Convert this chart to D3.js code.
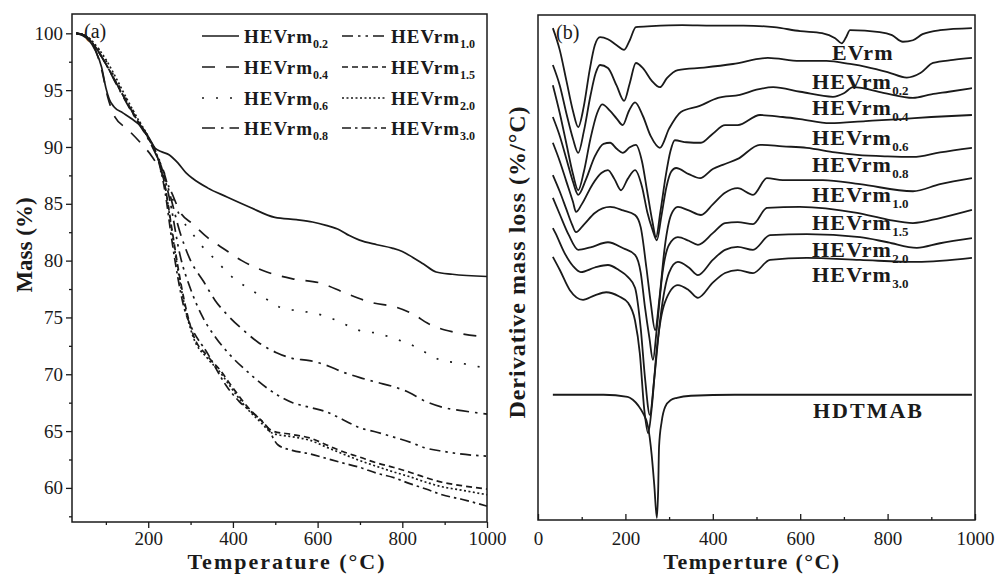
<!DOCTYPE html>
<html>
<head>
<meta charset="utf-8">
<script src="https://cdn.jsdelivr.net/npm/d3@7"></script>
<style>
	body { margin: 0; background: #fff; }
	svg text { font-family: "Liberation Serif", "Times New Roman", serif; fill: #1a1a1a; }
</style>
</head>
<body>
<svg id="chart" width="997" height="575"></svg>
<script>

// (a) TGA mass curves, [temperature, mass %]
var tgaNames = ["0.2", "0.4", "0.6", "0.8", "1.0", "1.5", "2.0", "3.0"];

var tga02 = [[30,100],[45,99.8],[60,99.4],[75,98.5],[90,97.0],[100,95.2],[108,94.2],[120,93.5],[140,93.0],[160,92.5],[186,91.7],[205,90.6],[216,89.9],[230,89.6],[250,89.3],[270,88.6],[290,87.7],[306,87.2],[340,86.4],[386,85.6],[440,84.7],[499,83.8],[550,83.6],[588,83.4],[620,83.1],[652,82.7],[675,82.2],[699,81.8],[740,81.4],[776,81.1],[800,80.8],[824,80.3],[850,79.7],[880,79.0],[918,78.8],[1000,78.6]];
var tga04 = [[30,100],[50,99.8],[70,99.0],[90,96.8],[105,94.3],[122,92.6],[150,91.6],[181,90.4],[210,89.1],[235,87.5],[255,86.0],[275,84.3],[306,83.2],[341,82.0],[380,81.0],[421,80.0],[480,79.0],[541,78.4],[609,78.0],[668,77.1],[729,76.3],[786,75.9],[830,75.2],[859,74.5],[922,73.7],[1000,73.3]];
var tga06 = [[30,100],[45,99.9],[60,99.6],[75,99.0],[100,97.6],[125,95.8],[150,94.1],[175,92.5],[200,90.9],[220,89.4],[240,87.5],[260,85.2],[280,83.6],[300,82.6],[322,81.5],[358,80.1],[397,78.6],[435,77.6],[471,76.8],[511,75.9],[550,75.6],[589,75.4],[628,75.0],[664,74.4],[703,73.8],[742,73.6],[776,73.2],[821,72.6],[856,71.9],[894,71.2],[934,71.0],[1000,70.5]];
var tga08 = [[30,100],[45,99.9],[60,99.5],[75,98.8],[100,97.3],[125,95.5],[150,93.8],[175,92.2],[200,90.7],[220,89.2],[235,88.0],[250,86.0],[275,82.5],[300,80.0],[330,78.2],[358,76.5],[390,75.1],[424,73.9],[460,72.8],[503,71.9],[540,71.4],[581,71.2],[620,70.8],[659,70.2],[700,69.7],[739,69.3],[780,68.9],[816,68.4],[850,67.7],[894,67.1],[940,66.8],[1000,66.5]];
var tga10 = [[30,100],[45,99.9],[60,99.5],[75,98.8],[100,97.3],[125,95.6],[150,93.9],[175,92.3],[200,90.8],[220,89.3],[235,87.8],[250,85.5],[275,80.5],[300,77.5],[329,75.0],[360,73.2],[393,71.7],[435,70.2],[480,68.8],[541,67.5],[580,67.1],[620,66.7],[660,66.0],[699,65.3],[740,64.9],[777,64.5],[820,64.0],[856,63.5],[900,63.2],[934,63.0],[1000,62.8]];
var tga15 = [[30,100],[45,99.9],[60,99.5],[75,98.8],[100,97.3],[125,95.6],[150,93.9],[175,92.3],[200,90.8],[220,89.3],[240,86.5],[255,83.0],[270,79.5],[285,76.5],[306,73.5],[340,71.6],[369,70.4],[400,68.8],[433,67.2],[465,66.0],[494,65.0],[540,64.7],[581,64.4],[620,63.8],[659,63.2],[700,62.7],[739,62.2],[780,61.8],[816,61.4],[856,60.9],[894,60.5],[940,60.2],[1000,59.9]];
var tga20 = [[30,100],[45,99.9],[60,99.6],[75,99.0],[100,97.7],[125,96.0],[150,94.2],[175,92.5],[200,90.9],[220,89.3],[240,86.5],[255,82.8],[270,79.2],[285,76.2],[306,73.3],[340,71.4],[369,70.2],[400,68.6],[433,67.0],[465,65.8],[494,64.8],[540,64.5],[581,64.2],[620,63.6],[659,63.0],[700,62.4],[739,61.9],[780,61.4],[816,61.0],[856,60.5],[894,60.1],[940,59.8],[1000,59.4]];
var tga30 = [[30,100],[45,99.9],[60,99.5],[75,98.8],[100,97.3],[125,95.6],[150,93.9],[175,92.3],[200,90.8],[220,89.3],[240,86.0],[255,82.0],[270,78.5],[285,75.8],[300,74.3],[339,71.9],[386,68.9],[415,67.6],[440,66.8],[480,65.4],[506,63.8],[540,63.3],[581,63.0],[620,62.6],[659,62.2],[700,61.8],[739,61.3],[780,60.9],[816,60.4],[856,59.9],[894,59.4],[940,59.0],[1000,58.4]];

var tgaYTicks = [60, 65, 70, 75, 80, 85, 90, 95, 100];
var tgaXTicks = [200, 400, 600, 800, 1000];

// (b) DTG curves, [temperature, offset signal in arbitrary units]
var dtgNames = ["EVrm", "HEVrm0.2", "HEVrm0.4", "HEVrm0.6", "HEVrm0.8", "HEVrm1.0", "HEVrm1.5", "HEVrm2.0", "HEVrm3.0", "HDTMAB"];

var dtgEV = [[34,97.4],[50,93],[65,87],[80,81],[92,77.8],[105,82],[118,89],[130,94],[142,95.6],[160,95.2],[180,94],[197,93.1],[210,95],[224,97.6],[260,97.8],[330,98],[400,97.9],[470,97.9],[540,97.6],[600,96.8],[650,96.4],[680,95.4],[695,94.4],[705,95.6],[714,97],[782,96.6],[810,96],[835,94.7],[858,95],[880,96.2],[920,97],[993,97.4]];
var dtg02 = [[34,90.1],[50,86],[65,80.5],[80,75.5],[92,72.7],[105,77],[120,84],[132,88.5],[142,90.1],[160,89.5],[180,86],[197,83.0],[210,86.5],[224,90.5],[240,89.5],[260,87],[279,85.7],[295,87.5],[320,89.1],[380,89.6],[446,90.3],[526,91.5],[599,90.9],[660,90.9],[714,90.3],[753,89.7],[800,88.7],[844,87.6],[875,88.5],[904,90.5],[950,91.1],[993,91.5]];
var dtg04 = [[34,86.1],[50,80.5],[65,74.5],[80,68.5],[92,65.3],[105,69],[120,75.5],[135,80.5],[147,82.3],[165,81],[180,79.5],[194,78.2],[208,81],[222,82.7],[240,80],[258,76],[279,73.7],[300,77.5],[327,80.8],[370,82],[412,83.6],[462,84.2],[500,85.2],[538,85.7],[600,84.8],[675,83.8],[700,84.5],[721,85.7],[790,84.6],[858,83.6],[900,84.3],[940,84.8],[993,85.5]];
var dtg06 = [[34,79.8],[50,76],[65,71.5],[80,67],[92,64.4],[110,67.5],[130,72],[150,74.5],[165,74.7],[180,73.5],[194,72.7],[210,73.8],[224,74.3],[238,71],[250,65],[262,59],[270,56.0],[280,61],[292,68],[303,73],[313,75.2],[340,74.8],[373,74.7],[400,76.5],[428,78.2],[457,78.2],[508,80.2],[560,79.8],[600,79.4],[668,78.6],[750,79],[830,79.4],[900,79.8],[993,80.2]];
var dtg08 = [[34,74.7],[50,71],[65,67],[80,63],[87,61.0],[100,62.5],[125,66.5],[145,68.7],[160,69.3],[175,67.5],[190,65.3],[205,67.5],[222,69.3],[238,66],[250,61],[262,57.5],[272,55.4],[282,60],[294,66],[305,69],[316,69.7],[345,68.5],[371,67.7],[400,69.5],[428,70.5],[457,71.5],[508,74.3],[560,74],[615,73.7],[680,72.8],[730,72.3],[800,72],[858,71.9],[920,72.8],[993,73.7]];
var dtg10 = [[34,68.3],[50,65],[65,61.5],[78,58.5],[87,57.0],[105,58.5],[130,60.8],[165,62.0],[195,61.3],[222,60.4],[235,58],[248,50],[258,43],[268,37.6],[278,44],[290,54],[305,60.5],[320,62.0],[345,61.3],[373,60.4],[400,62.5],[428,64.8],[457,65.7],[492,64.4],[524,67.7],[560,67.3],[652,67.3],[737,66.5],[858,65.1],[920,66.5],[993,67.7]];
var dtg15 = [[34,63.8],[50,60.5],[70,56.5],[92,53.5],[120,54],[160,55.0],[195,53.8],[222,52.5],[235,49],[245,42],[255,36],[263,31.7],[272,38],[285,49],[300,54.5],[320,56.0],[345,55.3],[366,54.5],[400,56.8],[428,58.8],[457,59.0],[492,58.6],[524,61.8],[599,62.0],[730,60.8],[800,59.5],[858,58.8],[920,59.8],[993,61.4]];
var dtg20 = [[34,57.8],[40,56.8],[60,53],[80,50.3],[98,49.1],[130,50],[160,50.5],[185,49.5],[206,48.1],[222,46],[235,38],[245,28],[256,20.8],[266,28],[280,40],[300,49],[320,51.1],[345,50],[366,48.5],[400,51.5],[428,53.5],[457,54.1],[492,53.5],[531,56.4],[615,56.6],[737,56.0],[800,55],[867,53.9],[920,54.8],[993,55.8]];
var dtg30 = [[34,52.1],[50,49.5],[73,45.5],[103,43.6],[130,44.5],[156,45.1],[185,44.3],[206,43.0],[222,39.5],[233,33],[243,22],[252,17.2],[260,22],[272,34],[290,43],[320,46.5],[345,45.5],[366,44.0],[400,47],[428,48.9],[457,49.5],[492,48.9],[531,51.5],[615,51.9],[737,51.5],[867,51.1],[993,51.9]];
var dtgHD = [[34,24.8],[150,24.8],[205,24.4],[217,23.8],[230,22.6],[240,21.2],[252,18.4],[260,13],[266,7],[272,0.4],[275,6],[277,14.5],[283,19.5],[291,22.4],[305,23.8],[318,24.2],[350,24.6],[450,24.8],[993,24.8]];

var dtgXTicks = [0, 200, 400, 600, 800, 1000];

var svg = d3.select("#chart");
var ink = "#1a1a1a";

// ---------- panel (a) ----------

var xA = d3.scaleLinear().domain([20, 1000]).range([72, 487]);
var yA = d3.scaleLinear().domain([57, 101.7]).range([522, 14]);

var dashA = {
	"0.2": null,
	"0.4": "13,11",
	"0.6": "2,12",
	"0.8": "13,6,2.5,6",
	"1.0": "11,5,2.5,5,2.5,5",
	"1.5": "6,4",
	"2.0": "2,2.5",
	"3.0": "9,4,2.5,4"
};

var tgaData = [tga02, tga04, tga06, tga08, tga10, tga15, tga20, tga30];

function axisStyle(g)	{
	g.select(".domain").remove();
	g.selectAll("line").attr("stroke", ink).attr("stroke-width", 1.3);
	g.selectAll("text")
		.attr("font-size", 19)
		.attr("font-family", '"Liberation Serif", serif')
		.attr("fill", "#222");
}

svg.append("g")
	.attr("transform", "translate(0,522)")
	.call(d3.axisBottom(xA).tickValues(tgaXTicks).tickSize(6).tickPadding(4).tickFormat(d3.format("d")))
	.call(axisStyle);

svg.append("g")
	.attr("transform", "translate(0,522)")
	.call(d3.axisBottom(xA).tickValues([100, 300, 500, 700, 900]).tickSize(3).tickFormat(""))
	.call(axisStyle);

svg.append("g")
	.attr("transform", "translate(72,0)")
	.call(d3.axisLeft(yA).tickValues(tgaYTicks).tickSize(6).tickPadding(3).tickFormat(d3.format("d")))
	.call(axisStyle);

svg.append("g")
	.attr("transform", "translate(72,0)")
	.call(d3.axisLeft(yA).tickValues([57.5, 62.5, 67.5, 72.5, 77.5, 82.5, 87.5, 92.5, 97.5]).tickSize(3).tickFormat(""))
	.call(axisStyle);

svg.append("rect")
	.attr("x", 72).attr("y", 14)
	.attr("width", 487 - 72).attr("height", 522 - 14)
	.attr("fill", "none").attr("stroke", ink).attr("stroke-width", 1.5);

var lineA = d3.line()
	.x(d => xA(d[0]))
	.y(d => yA(d[1]))
	.curve(d3.curveMonotoneX);

tgaData.forEach( (s, i) => {

	svg.append("path")
		.attr("d", lineA(s))
		.attr("fill", "none")
		.attr("stroke", ink)
		.attr("stroke-width", 1.7)
		.attr("stroke-dasharray", dashA[tgaNames[i]]);

});

// legend, two columns of four
tgaNames.forEach( (n, i) => {

	var col = Math.floor(i / 4);
	var row = i % 4;
	var ly = [36, 67, 98, 128][row];
	var x0 = col === 0 ? 202 : 342;
	var x1 = col === 0 ? 239 : 386;

	svg.append("line")
		.attr("x1", x0).attr("x2", x1)
		.attr("y1", ly).attr("y2", ly)
		.attr("stroke", ink)
		.attr("stroke-width", 1.7)
		.attr("stroke-dasharray", dashA[n]);

	var t = svg.append("text")
		.attr("x", x1 + 5)
		.attr("y", ly + 7)
		.attr("font-size", 19)
		.attr("font-weight", "bold")
		.attr("letter-spacing", 1);

	t.append("tspan").text("HEVrm");
	t.append("tspan")
		.attr("font-size", 12)
		.attr("dy", 5)
		.attr("letter-spacing", 0)
		.text(n);

});

svg.append("text")
	.attr("x", 84).attr("y", 38)
	.attr("font-size", 20)
	.text("(a)");

svg.append("text")
	.attr("transform", "translate(32,245) rotate(-90)")
	.attr("text-anchor", "middle")
	.attr("font-size", 23)
	.attr("font-weight", "bold")
	.text("Mass (%)");

svg.append("text")
	.attr("x", 287).attr("y", 569)
	.attr("text-anchor", "middle")
	.attr("font-size", 22)
	.attr("font-weight", "bold")
	.attr("letter-spacing", 2)
	.text("Temperature (°C)");

// ---------- panel (b) ----------

var xB = d3.scaleLinear().domain([0, 1000]).range([538, 975]);
var yB = d3.scaleLinear().domain([0, 100]).range([520, 15]);

var dtgData = [dtgEV, dtg02, dtg04, dtg06, dtg08, dtg10, dtg15, dtg20, dtg30, dtgHD];

svg.append("g")
	.attr("transform", "translate(0,520)")
	.call(d3.axisBottom(xB).tickValues(dtgXTicks).tickSize(-6).tickPadding(12).tickFormat(d3.format("d")))
	.call(axisStyle);

svg.append("g")
	.attr("transform", "translate(0,520)")
	.call(d3.axisBottom(xB).tickValues([100, 300, 500, 700, 900]).tickSize(-3).tickFormat(""))
	.call(axisStyle);

svg.append("rect")
	.attr("x", 538).attr("y", 15)
	.attr("width", 975 - 538).attr("height", 520 - 15)
	.attr("fill", "none").attr("stroke", ink).attr("stroke-width", 1.5);

var lineB = d3.line()
	.x(d => xB(d[0]))
	.y(d => yB(d[1]))
	.curve(d3.curveMonotoneX);

dtgData.forEach( s => {

	svg.append("path")
		.attr("d", lineB(s))
		.attr("fill", "none")
		.attr("stroke", ink)
		.attr("stroke-width", 1.8);

});

// curve names, placed on the right side under each trace
var labelY = [60, 89, 115, 145, 172, 202, 230, 257, 282];

dtgNames.slice(0, 9).forEach( (n, i) => {

	var t = svg.append("text")
		.attr("x", i === 0 ? 832 : 812)
		.attr("y", labelY[i])
		.attr("font-size", 22)
		.attr("font-weight", "bold")
		.attr("letter-spacing", 1.2);

	if(i === 0)	{
		t.text(n);
		return;
	}

	t.append("tspan").text("HEVrm");
	t.append("tspan")
		.attr("font-size", 13)
		.attr("dy", 6)
		.attr("letter-spacing", 0)
		.text(n.slice(5));

});

svg.append("text")
	.attr("x", 813).attr("y", 418)
	.attr("font-size", 22)
	.attr("font-weight", "bold")
	.attr("letter-spacing", 2)
	.text(dtgNames[9]);

svg.append("text")
	.attr("x", 556).attr("y", 39)
	.attr("font-size", 20)
	.text("(b)");

svg.append("text")
	.attr("transform", "translate(525,262) rotate(-90)")
	.attr("text-anchor", "middle")
	.attr("font-size", 24)
	.attr("font-weight", "bold")
	.attr("letter-spacing", 1)
	.text("Derivative mass loss (%/°C)");

svg.append("text")
	.attr("x", 752).attr("y", 569)
	.attr("text-anchor", "middle")
	.attr("font-size", 22)
	.attr("font-weight", "bold")
	.attr("letter-spacing", 1.4)
	.text("Temperture (°C)");

</script>
</body>
</html>
